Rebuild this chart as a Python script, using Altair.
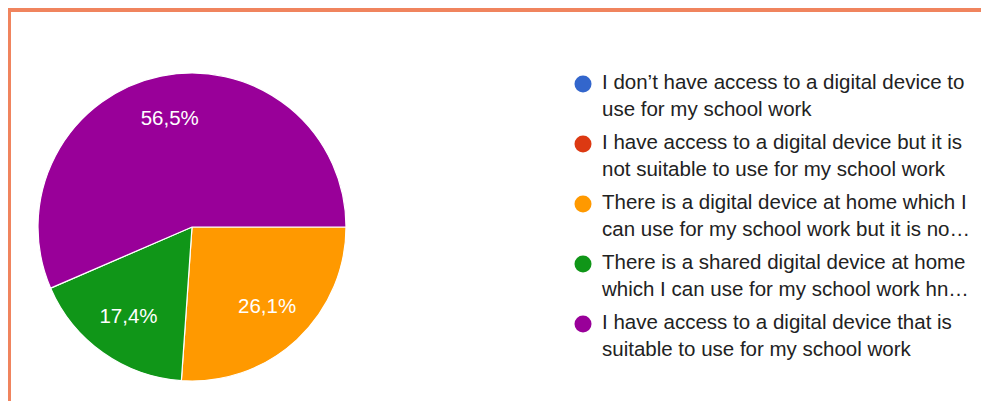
import math
import altair as alt
import pandas as pd

# --- data -------------------------------------------------------------
legend_lines = [
    ["I don’t have access to a digital device to", "use for my school work"],
    ["I have access to a digital device but it is", "not suitable to use for my school work"],
    ["There is a digital device at home which I", "can use for my school work but it is no…"],
    ["There is a shared digital device at home", "which I can use for my school work hn…"],
    ["I have access to a digital device that is", "suitable to use for my school work"],
]
shares = [0.0, 0.0, 26.1, 17.4, 56.5]
pct_labels = ["0%", "0%", "26,1%", "17,4%", "56,5%"]
colors = ["#3366CC", "#DC3912", "#FF9900", "#109618", "#990099"]

cats = ["\n".join(l) for l in legend_lines]
df = pd.DataFrame({
    "cat": cats,
    "share": shares,
    "label": pct_labels,
    "ord": list(range(len(cats))),
})

FONT = "Liberation Sans, Arial, sans-serif"
BORDER = "#F0845E"
W, H = 970, 389

color = alt.Color("cat:N", scale=alt.Scale(domain=cats, range=colors), legend=None)
theta = alt.Theta(
    "share:Q",
    stack=True,
    scale=alt.Scale(range=[math.pi / 2, math.pi / 2 + 2 * math.pi]),
)

# --- pie ----------------------------------------------------------------
base = alt.Chart(df).encode(
    theta=theta,
    order=alt.Order("ord:Q"),
    x=alt.value(181),
    y=alt.value(215),
)
arcs = base.mark_arc(radius=154, stroke="white", strokeWidth=1.2).encode(color=color)
labels = (
    base.transform_filter("datum.share > 0")
    .mark_text(radius=110, fontSize=20.5, font=FONT, color="white")
    .encode(text="label:N")
)

# --- legend -------------------------------------------------------------
ypos = alt.Y(
    "cat:N",
    sort=cats,
    axis=None,
    scale=alt.Scale(type="point", domain=cats, range=[72, 312], padding=0),
)
leg_base = alt.Chart(df).encode(y=ypos)
leg_dots = leg_base.mark_circle(size=290, opacity=1).encode(x=alt.value(572), color=color)
leg_text = leg_base.mark_text(
    align="left",
    baseline="middle",
    dy=-1,
    lineHeight=27,
    lineBreak="\n",
    fontSize=20.5,
    font=FONT,
    color="#222222",
).encode(x=alt.value(591), text="cat:N")

# --- orange frame (top and left bands) ----------------------------------
top_band = alt.Chart(df.head(1)).mark_rect(color=BORDER).encode(
    x=alt.value(-3), x2=alt.value(W), y=alt.value(-4), y2=alt.value(0)
)
left_band = alt.Chart(df.head(1)).mark_rect(color=BORDER).encode(
    x=alt.value(-3), x2=alt.value(0), y=alt.value(-4), y2=alt.value(H)
)

chart = (
    alt.layer(arcs, labels, leg_dots, leg_text, top_band, left_band)
    .properties(
        width=W,
        height=H,
        background="white",
        padding=0,
    )
    .configure_view(stroke="white", strokeWidth=0, fill="white")
)

chart.save("out.html", embed_options={"renderer": "svg", "actions": False})
